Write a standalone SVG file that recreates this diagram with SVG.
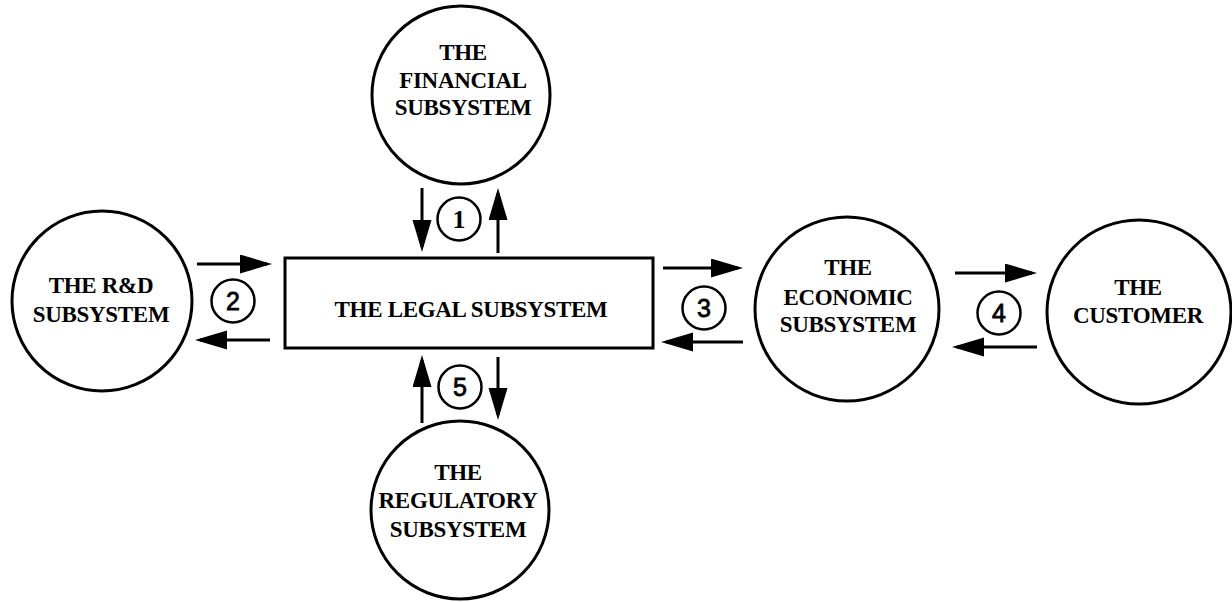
<svg xmlns="http://www.w3.org/2000/svg" width="1232" height="602" viewBox="0 0 1232 602">
<defs>
<style>
.n{fill:#fff;stroke:#000;stroke-width:3}
.t{font-family:"Liberation Serif","Times New Roman",serif;font-weight:bold;font-size:23px;letter-spacing:-0.3px;text-anchor:middle;fill:#000}
.c{fill:none;stroke:#000;stroke-width:2.5}
.d{font-family:"Liberation Sans",Arial,sans-serif;font-size:25px;text-anchor:middle;fill:#000;stroke:#000;stroke-width:0.8}
.d1{font-family:"Liberation Serif","Times New Roman",serif;font-weight:bold;font-size:26px;text-anchor:middle;fill:#000}
.a{stroke:#000;stroke-width:3;fill:none;marker-end:url(#ah)}
</style>
<marker id="ah" markerUnits="userSpaceOnUse" markerWidth="34" markerHeight="20" refX="27" refY="9.5" orient="auto">
<path d="M0,0 L32,9.5 L0,19 Z" fill="#000"/>
</marker>
</defs>
<rect width="1232" height="602" fill="#fff"/>
<g id="financial">
<circle class="n" cx="461" cy="95" r="89"/>
<text class="t" x="463" y="60">THE</text>
<text class="t" x="463" y="88">FINANCIAL</text>
<text class="t" x="463" y="115">SUBSYSTEM</text>
</g>
<g id="rnd">
<circle class="n" cx="102" cy="301" r="90"/>
<text class="t" x="101" y="293">THE R&amp;D</text>
<text class="t" x="101" y="322">SUBSYSTEM</text>
</g>
<g id="legal">
<rect class="n" x="285" y="258" width="368" height="90" stroke-width="2.5"/>
<text class="t" x="471" y="317">THE LEGAL SUBSYSTEM</text>
</g>
<g id="economic">
<circle class="n" cx="847" cy="309" r="92"/>
<text class="t" x="848" y="275">THE</text>
<text class="t" x="848" y="305">ECONOMIC</text>
<text class="t" x="848" y="332">SUBSYSTEM</text>
</g>
<g id="customer">
<circle class="n" cx="1139" cy="312" r="92"/>
<text class="t" x="1138" y="295">THE</text>
<text class="t" x="1138" y="323">CUSTOMER</text>
</g>
<g id="regulatory">
<circle class="n" cx="460" cy="510" r="89"/>
<text class="t" x="458" y="480">THE</text>
<text class="t" x="458" y="508">REGULATORY</text>
<text class="t" x="458" y="537">SUBSYSTEM</text>
</g>
<g id="connectors">
<line class="a" x1="422" y1="188" x2="422" y2="247"/>
<line class="a" x1="498" y1="253" x2="498" y2="193"/>
<line class="a" x1="197" y1="264" x2="267" y2="264"/>
<line class="a" x1="270" y1="340" x2="200" y2="340"/>
<line class="a" x1="663" y1="268" x2="738" y2="268"/>
<line class="a" x1="743" y1="342" x2="666" y2="342"/>
<line class="a" x1="955" y1="273" x2="1032" y2="273"/>
<line class="a" x1="1037" y1="347" x2="957" y2="347"/>
<line class="a" x1="422" y1="423" x2="422" y2="360"/>
<line class="a" x1="498" y1="357" x2="498" y2="415"/>
</g>
<g id="labels">
<circle class="c" cx="459" cy="219" r="21.5"/><text class="d1" x="459" y="228">1</text>
<circle class="c" cx="233" cy="301" r="21.5"/><text class="d" x="233" y="310">2</text>
<circle class="c" cx="704" cy="308" r="21.5"/><text class="d" x="704" y="317">3</text>
<circle class="c" cx="999" cy="313" r="21.5"/><text class="d" x="999" y="322">4</text>
<circle class="c" cx="460" cy="387" r="21.5"/><text class="d" x="460" y="396">5</text>
</g>
</svg>
